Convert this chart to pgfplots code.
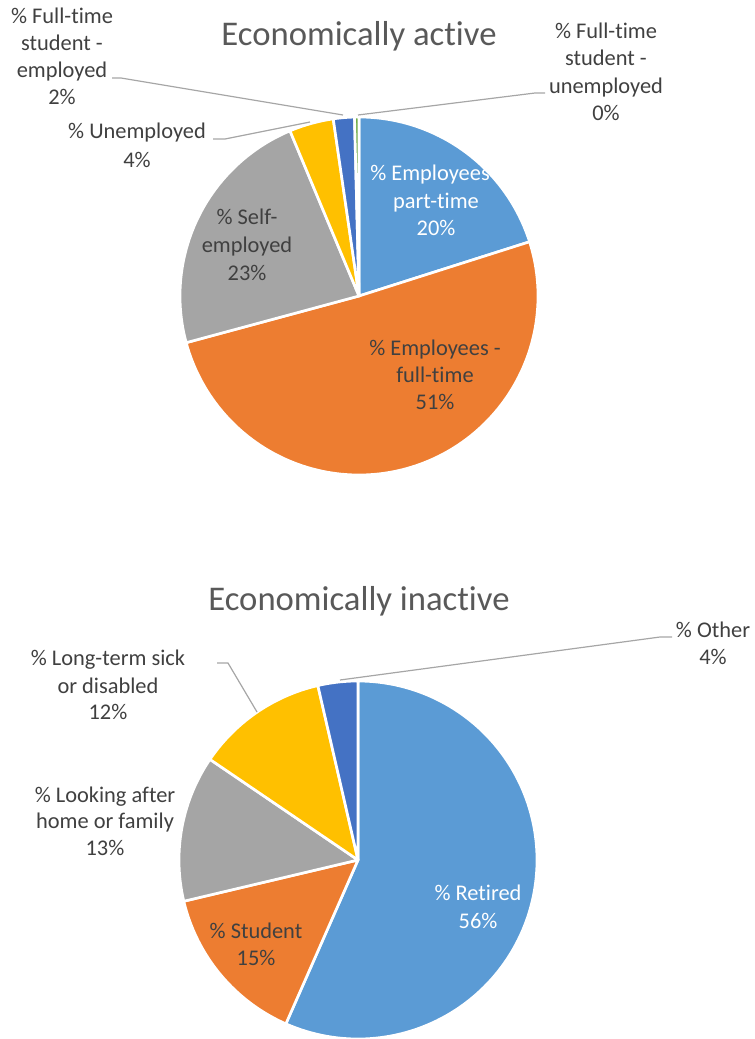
\documentclass[border=0pt]{standalone}
\usepackage{fontspec}
\setmainfont{Carlito}[Ligatures=NoCommon]
\usepackage{pgfplots}
\pgfplotsset{compat=1.18}
\definecolor{cBlue}{HTML}{5B9BD5}
\definecolor{cOrange}{HTML}{ED7D31}
\definecolor{cGray}{HTML}{A5A5A5}
\definecolor{cYellow}{HTML}{FFC000}
\definecolor{cDark}{HTML}{4472C4}
\definecolor{cGreen}{HTML}{70AD47}
\definecolor{txt}{HTML}{404040}
\definecolor{ttl}{HTML}{595959}
\definecolor{lead}{HTML}{A6A6A6}
\newcommand\cum{90}
\newcommand\slice[2]{%
  \pgfmathsetmacro\sa{\cum}%
  \pgfmathsetmacro\sb{\cum-3.6*#1}%
  \edef\tmp{\noexpand\addplot[fill=#2, draw=white, line width=2pt, line join=round, domain=\sb:\sa, samples=120, forget plot] ({\cx+\R*cos(x)},{\cy-\R*sin(x)}) -- (axis cs:\cx,\cy) -- cycle;}%
  \tmp
  \global\let\cum\sb}
\newcommand\lab[4]{\node[anchor=base, inner sep=0pt, text=#4, font=\fontsize{16.8}{20}\selectfont] at (axis cs:#1,#2) {#3};}
\newcommand\ttlnode[3]{\node[anchor=base, inner sep=0pt, text=ttl, font=\fontsize{26}{30}\selectfont] at (axis cs:#1,#2) {#3};}
\begin{document}
\begin{tikzpicture}
\begin{axis}[
  width=566.25pt, height=779.25pt, scale only axis,
  xmin=0, xmax=755, ymin=0, ymax=1039, y dir=reverse,
  hide axis, clip=false]
% ---- Economically active (shares in %) ----
\def\cx{359}\def\cy{296}\def\R{179}\gdef\cum{90}
\slice{20.1}{cBlue}
\slice{50.7}{cOrange}
\slice{22.9}{cGray}
\slice{4.0}{cYellow}
\slice{1.9}{cDark}
\slice{0.4}{cGreen}
% ---- Economically inactive (shares in %) ----
\def\cx{358}\def\cy{860}\def\R{179}\gdef\cum{90}
\slice{56.6}{cBlue}
\slice{14.7}{cOrange}
\slice{13.2}{cGray}
\slice{11.9}{cYellow}
\slice{3.6}{cDark}
% leader lines
\addplot[lead, line width=0.9pt, forget plot] coordinates {(112,78) (121,78) (343,115)};
\addplot[lead, line width=0.9pt, forget plot] coordinates {(213,139) (225,139) (310,122)};
\addplot[lead, line width=0.9pt, forget plot] coordinates {(545,93) (535,93) (358,115)};
\addplot[lead, line width=0.9pt, forget plot] coordinates {(217,663) (228,663) (257,712)};
\addplot[lead, line width=0.9pt, forget plot] coordinates {(672,637) (660,637) (340,680)};
% titles
\ttlnode{359}{45}{Economically active}
\ttlnode{359}{610}{Economically inactive}
% labels top
\lab{436}{180}{\% Employees -}{white}
\lab{436}{208}{part-time}{white}
\lab{436}{235}{20\%}{white}
\lab{435}{355}{\% Employees -}{txt}
\lab{435}{382}{full-time}{txt}
\lab{435}{409}{51\%}{txt}
\lab{247}{224}{\% Self-}{txt}
\lab{247}{252}{employed}{txt}
\lab{247}{280}{23\%}{txt}
\lab{62}{23}{\% Full-time}{txt}
\lab{62}{50}{student -}{txt}
\lab{62}{77}{employed}{txt}
\lab{62}{104}{2\%}{txt}
\lab{137}{138}{\% Unemployed}{txt}
\lab{137}{167}{4\%}{txt}
\lab{606}{38}{\% Full-time}{txt}
\lab{606}{65}{student -}{txt}
\lab{606}{93}{unemployed}{txt}
\lab{606}{120}{0\%}{txt}
% labels bottom
\lab{108}{665}{\% Long-term sick}{txt}
\lab{108}{693}{or disabled}{txt}
\lab{108}{719}{12\%}{txt}
\lab{713}{637}{\% Other}{txt}
\lab{713}{664}{4\%}{txt}
\lab{105}{802}{\% Looking after}{txt}
\lab{105}{828}{home or family}{txt}
\lab{105}{855}{13\%}{txt}
\lab{478}{900}{\% Retired}{white}
\lab{478}{928}{56\%}{white}
\lab{256}{938}{\% Student}{txt}
\lab{256}{965}{15\%}{txt}
\end{axis}
\pgfresetboundingbox
\path (current axis.south west) rectangle (current axis.north east);
\end{tikzpicture}
\end{document}
